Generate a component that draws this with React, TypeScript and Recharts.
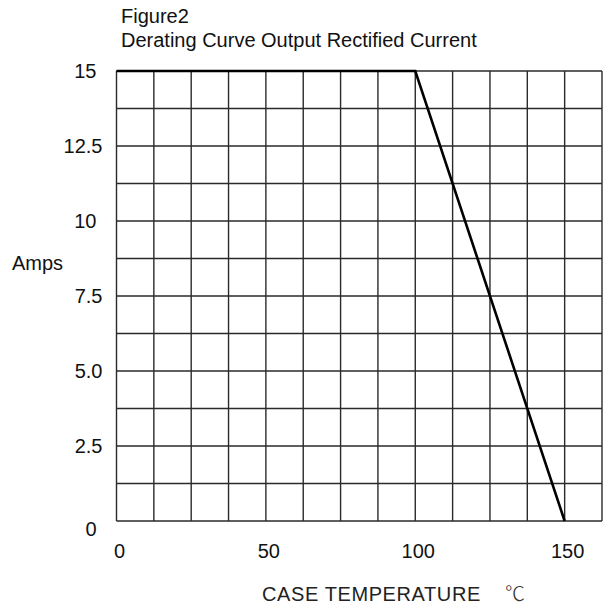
import { LineChart, Line, XAxis, YAxis, ReferenceLine } from 'recharts';

const curve = [
  { temp: 0, amps: 15 },
  { temp: 100, amps: 15 },
  { temp: 150, amps: 0 },
];

const xTicks = [0, 50, 100, 150];
const yTicks = [0, 2.5, 5, 7.5, 10, 12.5, 15];
const yTickLabels = ['0', '2.5', '5.0', '7.5', '10', '12.5', '15'];

// grid every 12.5 degrees and every 1.25 A
const gridX = [0, 12.5, 25, 37.5, 50, 62.5, 75, 87.5, 100, 112.5, 125, 137.5, 150, 162.5];
const gridY = [0, 1.25, 2.5, 3.75, 5, 6.25, 7.5, 8.75, 10, 11.25, 12.5, 13.75, 15];

const FONT = '"Liberation Sans", Arial, sans-serif';
const GRID = '#2a2a2a';

function XTick(props: any) {
  const { x, y, payload } = props;
  return (
    <text x={x + 3} y={y + 29} textAnchor="middle" fontFamily={FONT} fontSize={20} fill="#111">
      {payload.value}
    </text>
  );
}

function YTick(props: any) {
  const { x, y, payload } = props;
  const i = yTicks.indexOf(payload.value);
  const label = yTickLabels[i] ?? String(payload.value);
  const isDec = label.includes('.');
  const dy = payload.value === 0 ? 15 : 7;
  return (
    <text x={isDec ? x - 6 : x - 12} y={y + dy} textAnchor="end" fontFamily={FONT} fontSize={20} fill="#111">
      {label}
    </text>
  );
}

export default function App() {
  return (
    <div style={{ position: 'absolute', left: 0, top: 0, width: 604, height: 608, background: '#fff' }}>
      <LineChart width={604} height={608} data={curve} margin={{ top: 71, right: 2, left: 0, bottom: 0 }}>
        <XAxis
          dataKey="temp"
          type="number"
          domain={[0, 162.5]}
          ticks={xTicks}
          height={87}
          axisLine={false}
          tickLine={false}
          tick={<XTick />}
          interval={0}
        />
        <YAxis
          type="number"
          domain={[0, 15]}
          ticks={yTicks}
          width={116.5}
          axisLine={false}
          tickLine={false}
          tick={<YTick />}
          interval={0}
        />
        {gridX.map((v) => (
          <ReferenceLine key={'gx' + v} x={v} stroke={GRID} strokeWidth={1.4} />
        ))}
        {gridY.map((v) => (
          <ReferenceLine key={'gy' + v} y={v} stroke={GRID} strokeWidth={1.4} />
        ))}
        <Line
          dataKey="amps"
          type="linear"
          stroke="#000"
          strokeWidth={2.6}
          dot={false}
          isAnimationActive={false}
        />
      </LineChart>
      <svg width={604} height={608} style={{ position: 'absolute', left: 0, top: 0, pointerEvents: 'none' }}>
        <text x={121} y={23} fontFamily={FONT} fontSize={20} fill="#111">Figure2</text>
        <text x={121} y={47} fontFamily={FONT} fontSize={20} fill="#111">Derating Curve Output Rectified Current</text>
        <text x={12} y={270} fontFamily={FONT} fontSize={20} fill="#111">Amps</text>
        <text x={262} y={601} fontFamily={FONT} fontSize={20} fill="#222" letterSpacing={0.6}>
          CASE TEMPERATURE
        </text>
        <text x={515} y={601} textAnchor="middle" fontFamily='"Noto Sans CJK SC", sans-serif' fontWeight={300} fontSize={20} fill="#333">
          ℃
        </text>
      </svg>
    </div>
  );
}
